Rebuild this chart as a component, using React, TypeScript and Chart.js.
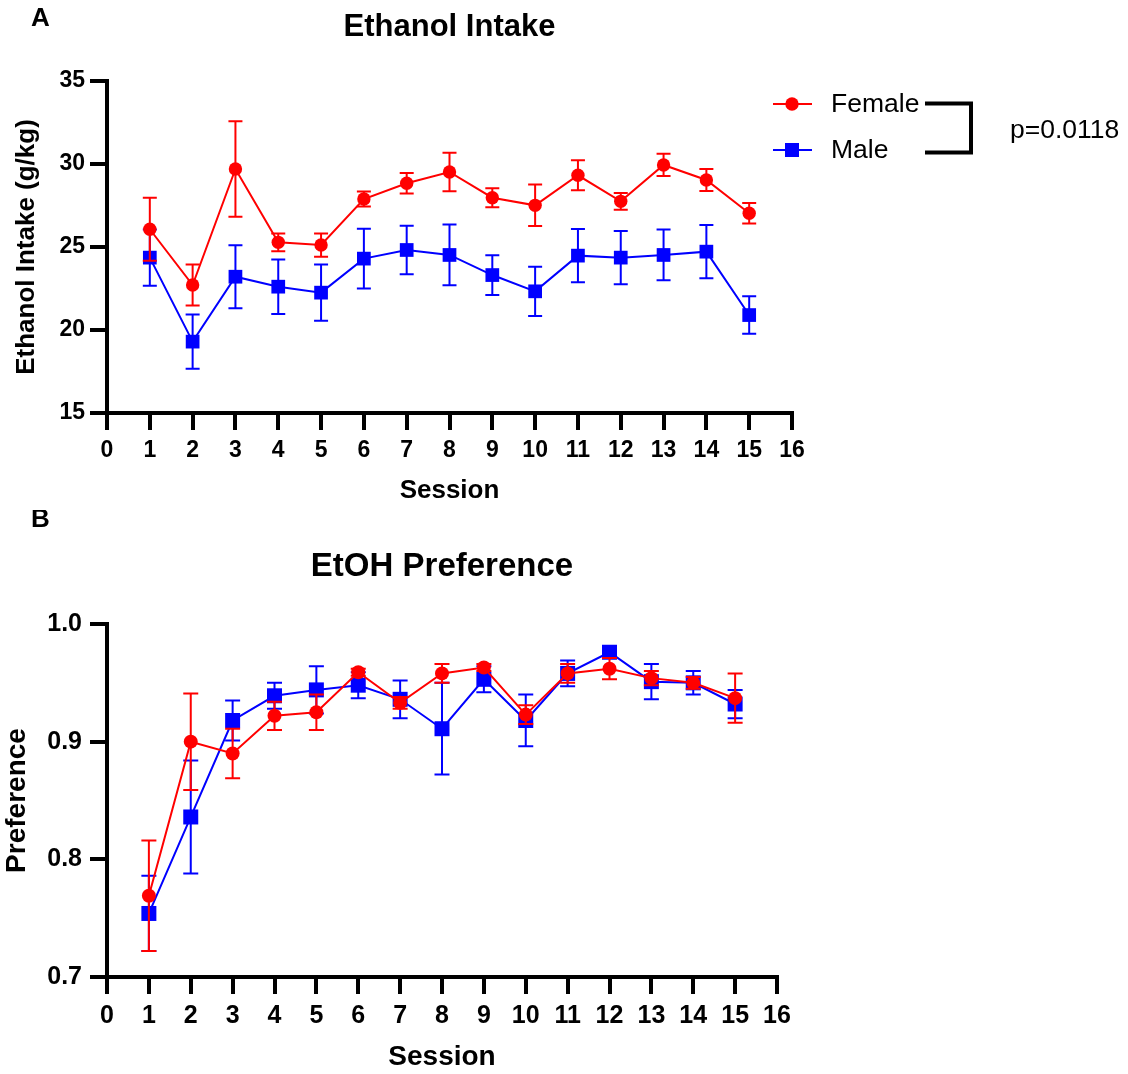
import React, { useEffect, useRef } from "react";
import { Chart, registerables } from "chart.js";

Chart.register(...registerables);

const FONT = "'Liberation Sans', Arial, Helvetica, sans-serif";

const sessions = [1, 2, 3, 4, 5, 6, 7, 8, 9, 10, 11, 12, 13, 14, 15];
const seriesLabels = ["Female", "Male"];
const pValueText = "p=0.0118";

// Panel A: Ethanol intake (g/kg), mean and SEM
const intakeFemale = [26.07, 22.71, 29.7, 25.28, 25.12, 27.89, 28.84, 29.52, 27.97, 27.51, 29.32, 27.75, 29.94, 29.04, 27.03];
const intakeFemaleSem = [1.9, 1.24, 2.88, 0.53, 0.7, 0.45, 0.62, 1.16, 0.57, 1.25, 0.9, 0.5, 0.67, 0.66, 0.62];
const intakeMale = [24.36, 19.3, 23.21, 22.61, 22.25, 24.3, 24.82, 24.52, 23.31, 22.33, 24.48, 24.36, 24.52, 24.72, 20.9];
const intakeMaleSem = [1.7, 1.63, 1.9, 1.64, 1.7, 1.8, 1.46, 1.83, 1.2, 1.48, 1.6, 1.6, 1.53, 1.6, 1.13];

// Panel B: EtOH preference, mean and SEM
const prefFemale = [0.769, 0.9, 0.89, 0.922, 0.925, 0.959, 0.933, 0.958, 0.963, 0.923, 0.958, 0.962, 0.954, 0.95, 0.937];
const prefFemaleSem = [0.047, 0.041, 0.021, 0.012, 0.015, 0.003, 0.005, 0.008, 0.003, 0.008, 0.008, 0.009, 0.006, 0.005, 0.021];
const prefMale = [0.754, 0.836, 0.918, 0.939, 0.944, 0.948, 0.936, 0.911, 0.953, 0.918, 0.958, 0.976, 0.951, 0.95, 0.932];
const prefMaleSem = [0.032, 0.048, 0.017, 0.011, 0.02, 0.011, 0.016, 0.039, 0.011, 0.022, 0.011, 0.003, 0.015, 0.01, 0.012];

const RED = "#ff0000";
const BLUE = "#0000ff";

const errorBarPlugin = {
  id: "errorBars",
  afterDatasetDraw(chart: any, args: any) {
    const ds: any = chart.data.datasets[args.index];
    const errs: number[] | undefined = ds.errors;
    if (!errs) return;
    const ctx = chart.ctx;
    const yScale = chart.scales.y;
    const cap = ds.capHalf || 7;
    ctx.save();
    ctx.strokeStyle = ds.borderColor;
    ctx.lineWidth = 2;
    args.meta.data.forEach((pt: any, i: number) => {
      const v = ds.data[i].y;
      const e = errs[i];
      const yt = yScale.getPixelForValue(v + e);
      const yb = yScale.getPixelForValue(v - e);
      const x = pt.x;
      ctx.beginPath();
      ctx.moveTo(x, yt);
      ctx.lineTo(x, yb);
      ctx.moveTo(x - cap, yt);
      ctx.lineTo(x + cap, yt);
      ctx.moveTo(x - cap, yb);
      ctx.lineTo(x + cap, yb);
      ctx.stroke();
    });
    ctx.restore();
  },
};

const annotPlugin = {
  id: "annot",
  afterDraw(chart: any, _args: any, opts: any) {
    const ctx = chart.ctx;
    ctx.save();
    ctx.fillStyle = "#000";
    ctx.textBaseline = "middle";
    ctx.textAlign = "left";
    if (opts.letter) {
      ctx.font = `bold ${opts.letterSize}px ${FONT}`;
      ctx.fillText(opts.letter, opts.letterX, opts.letterY);
    }
    if (opts.legend) {
      const ds = chart.data.datasets;
      const rows = [
        { y: 104, color: RED, style: "circle", label: ds[0].label },
        { y: 150, color: BLUE, style: "rect", label: ds[1].label },
      ];
      rows.forEach((r) => {
        ctx.strokeStyle = r.color;
        ctx.fillStyle = r.color;
        ctx.lineWidth = 2;
        ctx.beginPath();
        ctx.moveTo(773, r.y);
        ctx.lineTo(812, r.y);
        ctx.stroke();
        if (r.style === "circle") {
          ctx.beginPath();
          ctx.arc(792, r.y, 6.7, 0, Math.PI * 2);
          ctx.fill();
        } else {
          ctx.fillRect(792 - 7, r.y - 7, 14, 14);
        }
        ctx.fillStyle = "#000";
        ctx.font = `26.5px ${FONT}`;
        ctx.fillText(r.label, 831, r.y + 1);
      });
      ctx.strokeStyle = "#000";
      ctx.lineWidth = 4;
      ctx.beginPath();
      ctx.moveTo(925, 103.5);
      ctx.lineTo(971, 103.5);
      ctx.lineTo(971, 152.5);
      ctx.lineTo(925, 152.5);
      ctx.stroke();
      ctx.fillStyle = "#000";
      ctx.font = `26.5px ${FONT}`;
      ctx.fillText(pValueText, 1010, 131);
    }
    ctx.restore();
  },
};

function toPoints(vals: number[]) {
  return vals.map((v, i) => ({ x: sessions[i], y: v }));
}

interface PanelSpec {
  title: string;
  titleSize: number;
  titlePadTop: number;
  titlePadBottom: number;
  yTitle: string;
  yTitlePad: number;
  xTitlePad: number;
  axisTitleSize: number;
  tickSize: number;
  yTickPad: number;
  yMin: number;
  yMax: number;
  yStep: number;
  yDecimals: number;
  rightPad: number;
  xAxisHeight: number;
  female: number[];
  femaleSem: number[];
  male: number[];
  maleSem: number[];
  femaleRadius: number;
  maleRadius: number;
  capHalf: number;
  letter: string;
  letterY: number;
  legend: boolean;
}

function makeConfig(p: PanelSpec): any {
  return {
    type: "line",
    data: {
      datasets: [
        {
          label: seriesLabels[0],
          data: toPoints(p.female),
          errors: p.femaleSem,
          capHalf: p.capHalf,
          borderColor: RED,
          backgroundColor: RED,
          pointBackgroundColor: RED,
          pointBorderColor: RED,
          pointStyle: "circle",
          pointRadius: p.femaleRadius,
          pointBorderWidth: 0,
          borderWidth: 2,
          tension: 0,
        },
        {
          label: seriesLabels[1],
          data: toPoints(p.male),
          errors: p.maleSem,
          capHalf: p.capHalf,
          borderColor: BLUE,
          backgroundColor: BLUE,
          pointBackgroundColor: BLUE,
          pointBorderColor: BLUE,
          pointStyle: "rect",
          pointRadius: p.maleRadius,
          pointBorderWidth: 0,
          borderWidth: 2,
          tension: 0,
        },
      ],
    },
    options: {
      responsive: false,
      animation: false,
      devicePixelRatio: 1,
      layout: { padding: { top: 0, left: 0, right: p.rightPad, bottom: 0 } },
      plugins: {
        legend: { display: false },
        tooltip: { enabled: false },
        title: {
          display: true,
          text: p.title,
          color: "#000",
          fullSize: false,
          font: { family: FONT, size: p.titleSize, weight: "bold", lineHeight: 1.2 },
          padding: { top: p.titlePadTop, bottom: p.titlePadBottom },
        },
        annot: {
          letter: p.letter,
          letterX: 31,
          letterY: p.letterY,
          letterSize: 26,
          legend: p.legend,
        },
      },
      scales: {
        x: {
          type: "linear",
          min: 0,
          max: 16,
          afterFit: (s: any) => {
            s.height = p.xAxisHeight;
          },
          ticks: {
            stepSize: 1,
            autoSkip: false,
            maxRotation: 0,
            color: "#000",
            padding: 7,
            font: { family: FONT, size: p.tickSize, weight: "bold", lineHeight: 1.2 },
          },
          grid: {
            display: true,
            drawOnChartArea: false,
            drawTicks: true,
            tickLength: 17,
            tickWidth: 4,
            tickColor: "#000",
            lineWidth: 4,
            color: "#000",
          },
          border: { display: true, width: 4, color: "#000" },
          title: {
            display: true,
            text: "Session",
            color: "#000",
            font: { family: FONT, size: p.axisTitleSize, weight: "bold", lineHeight: 1.2 },
            padding: { top: 0, bottom: p.xTitlePad },
          },
        },
        y: {
          type: "linear",
          min: p.yMin,
          max: p.yMax,
          afterFit: (s: any) => {
            s.width = 107;
          },
          ticks: {
            stepSize: p.yStep,
            color: "#000",
            padding: p.yTickPad,
            font: { family: FONT, size: p.tickSize, weight: "bold", lineHeight: 1.2 },
            callback: (v: any) => Number(v).toFixed(p.yDecimals),
          },
          grid: {
            display: true,
            drawOnChartArea: false,
            drawTicks: true,
            tickLength: 17,
            tickWidth: 4,
            tickColor: "#000",
            lineWidth: 4,
            color: "#000",
          },
          border: { display: true, width: 4, color: "#000" },
          title: {
            display: true,
            text: p.yTitle,
            color: "#000",
            font: { family: FONT, size: p.axisTitleSize, weight: "bold", lineHeight: 1.2 },
            padding: { top: p.yTitlePad, bottom: 0 },
          },
        },
      },
    },
    plugins: [errorBarPlugin, annotPlugin],
  };
}

const panelA: PanelSpec = {
  title: "Ethanol Intake",
  titleSize: 31,
  titlePadTop: 8.4,
  titlePadBottom: 35.4,
  yTitle: "Ethanol Intake (g/kg)",
  yTitlePad: 11.4,
  xTitlePad: 3.4,
  axisTitleSize: 26,
  tickSize: 23,
  yTickPad: 5,
  yMin: 15,
  yMax: 35,
  yStep: 5,
  yDecimals: 0,
  rightPad: 336,
  xAxisHeight: 97,
  female: intakeFemale,
  femaleSem: intakeFemaleSem,
  male: intakeMale,
  maleSem: intakeMaleSem,
  femaleRadius: 6.7,
  maleRadius: 9.7,
  capHalf: 7,
  letter: "A",
  letterY: 19,
  legend: true,
};

const panelB: PanelSpec = {
  title: "EtOH Preference",
  titleSize: 33,
  titlePadTop: 37.2,
  titlePadBottom: 37.2,
  yTitle: "Preference",
  yTitlePad: 0,
  xTitlePad: 0,
  axisTitleSize: 28,
  tickSize: 25,
  yTickPad: 8,
  yMin: 0.7,
  yMax: 1.0,
  yStep: 0.1,
  yDecimals: 1,
  rightPad: 351,
  xAxisHeight: 97,
  female: prefFemale,
  femaleSem: prefFemaleSem,
  male: prefMale,
  maleSem: prefMaleSem,
  femaleRadius: 7,
  maleRadius: 10.6,
  capHalf: 7.5,
  letter: "B",
  letterY: 10,
  legend: false,
};

function ChartCanvas({ spec, top, height }: { spec: PanelSpec; top: number; height: number }) {
  const ref = useRef<HTMLCanvasElement | null>(null);
  useEffect(() => {
    if (!ref.current) return;
    const chart = new Chart(ref.current, makeConfig(spec));
    return () => chart.destroy();
  }, [spec]);
  return (
    <canvas
      ref={ref}
      width={1128}
      height={height}
      style={{ position: "absolute", left: 0, top, width: 1128, height, display: "block" }}
    />
  );
}

export default function App() {
  return (
    <div style={{ position: "absolute", left: 0, top: 0, width: 1128, height: 1074, background: "#fff", overflow: "hidden" }}>
      <ChartCanvas spec={panelA} top={0} height={510} />
      <ChartCanvas spec={panelB} top={510} height={564} />
    </div>
  );
}
